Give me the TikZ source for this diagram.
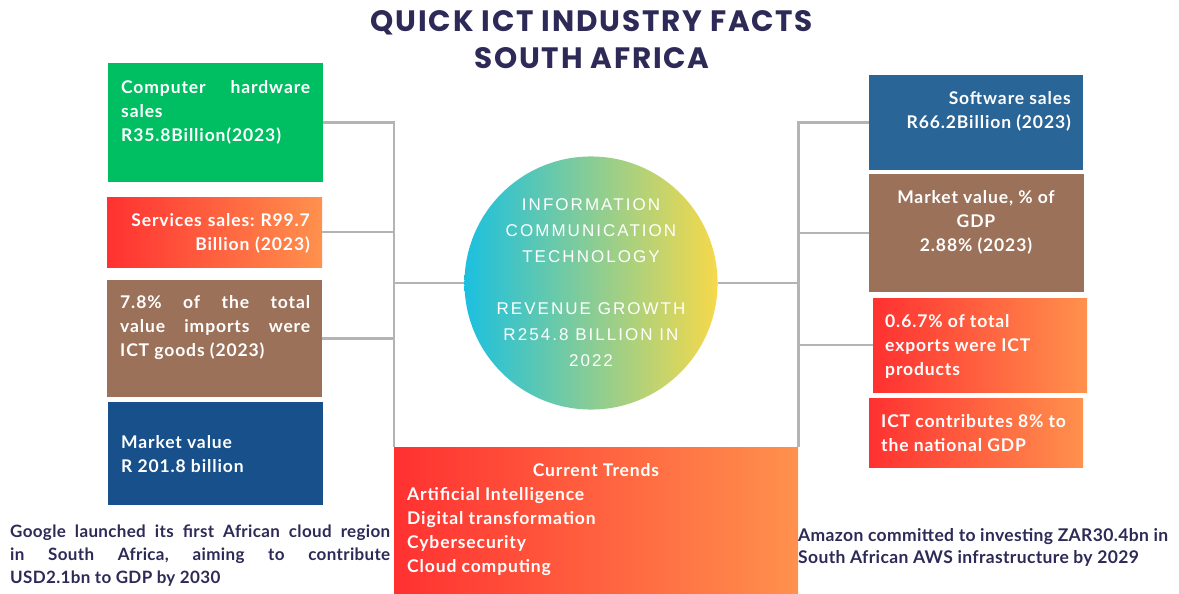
\documentclass[tikz,border=0pt]{standalone}
\usepackage{fontspec}
\setmainfont{Lato}[LetterSpace=5]
\newfontfamily\notefont[LetterSpace=2]{Lato}
\newfontfamily\titlefont[LetterSpace=6]{Poppins}
\newfontfamily\circfont[LetterSpace=12]{Liberation Sans}
\usepackage{tikz}
\usetikzlibrary{positioning}

\definecolor{hwgreen}{HTML}{00BF63}
\definecolor{redA}{HTML}{FF3131}
\definecolor{orangeA}{HTML}{FF914D}
\definecolor{brownA}{HTML}{9C715A}
\definecolor{blueA}{HTML}{17508A}
\definecolor{blueB}{HTML}{2A6598}
\definecolor{cyanA}{HTML}{1BC0DF}
\definecolor{yellowA}{HTML}{F6D94A}
\definecolor{linegray}{HTML}{B4B4B4}
\definecolor{navy}{HTML}{2D2A57}

\begin{document}
\frenchspacing
\begin{tikzpicture}[x=1pt, y=-1pt,
  box/.style={rectangle, inner sep=0pt, anchor=north west},
  hot/.style={box, left color=redA, right color=orangeA},
  txt/.style={text=white, inner sep=0pt, font=\fontsize{17.5}{24}\selectfont\bfseries},
  note/.style={text=navy, inner sep=0pt, anchor=north west},
  link/.style={draw=linegray, line width=2.5pt}]
\useasboundingbox (0,0) rectangle (1179,594);

\node[anchor=north, inner sep=0pt, text=navy, align=center,
  font=\titlefont\fontsize{29.5}{37}\selectfont\bfseries] (title) at (592,10)
  {QUICK ICT INDUSTRY FACTS\\SOUTH AFRICA};

\node[box, fill=hwgreen, minimum width=215pt, minimum height=119pt] (hw) at (108,63) {};
\node[hot, minimum width=215pt, minimum height=70pt] (svc) at (107,197) {};
\node[box, fill=brownA, minimum width=215pt, minimum height=117pt] (imp) at (107,280) {};
\node[box, fill=blueA, minimum width=215pt, minimum height=103pt] (mkt) at (108,402) {};

\node[box, fill=blueB, minimum width=214pt, minimum height=95pt] (sw) at (869,75) {};
\node[box, fill=brownA, minimum width=215pt, minimum height=118pt] (gdp) at (869,174) {};
\node[hot, minimum width=214pt, minimum height=94pt] (exp) at (873,298) {};
\node[hot, minimum width=214pt, minimum height=69pt] (con) at (869,398) {};

\node[hot, minimum width=404pt, minimum height=147pt] (trd) at (394,447) {};

\node[circle, left color=cyanA, right color=yellowA, minimum size=252pt, inner sep=0pt,
  text=white, align=center, font=\circfont\fontsize{17}{26}\selectfont] (ict) at (591,283)
  {INFORMATION\\COMMUNICATION\\TECHNOLOGY\\[26pt]REVENUE GROWTH\\R254.8 BILLION IN\\2022};

\draw[link] (hw.east) -| (trd.north west);
\draw[link] (svc.east) -- (svc.east -| trd.west);
\draw[link] (imp.east) -- (imp.east -| trd.west);
\draw[link] (ict.west) -- (ict.west -| trd.west);
\draw[link] (sw.west) -| (trd.north east);
\draw[link] (gdp.west) -- (gdp.west -| trd.east);
\draw[link] (exp.west) -- (exp.west -| trd.east);
\draw[link] (ict.east) -- (ict.east -| trd.east);

\node[txt, anchor=north west, text width=189pt, align=justify] (hwt) at (121,80)
  {Computer hardware\linebreak sales\\R35.8Billion(2023)};
\node[txt, anchor=north east, text width=190pt, align=right] (svct) at (310,213)
  {Services sales: R99.7\\Billion (2023)};
\node[txt, anchor=north west, text width=190pt, align=justify] (impt) at (120,295)
  {7.8\% of the total\linebreak value imports were\linebreak ICT goods (2023)};
\node[txt, anchor=north west, align=left] (mktt) at (121,435)
  {Market value\\R 201.8 billion};

\node[txt, anchor=north east, align=right] (swt) at (1071,91)
  {Software sales\\R66.2Billion (2023)};
\node[txt, anchor=north, align=center] (gdpt) at (976,190)
  {Market value, \% of\\GDP\\2.88\% (2023)};
\node[txt, anchor=north west, align=left] (expt) at (885,314)
  {0.6.7\% of total\\exports were ICT\\products};
\node[txt, anchor=north west, align=left] (cont) at (881,414)
  {ICT contributes 8\% to\\the national GDP};

\node[txt, anchor=north] (trdh) at (596,463) {Current Trends};
\node[txt, anchor=north west, align=left] (trdt) at (407,487)
  {Artificial Intelligence\\Digital transformation\\Cybersecurity\\Cloud computing};

\node[note, text width=380pt, align=justify, font=\notefont\fontsize{17}{23}\selectfont\bfseries] (google) at (10,525)
  {Google launched its first African cloud region\linebreak in South Africa, aiming to contribute\linebreak USD2.1bn to GDP by 2030};
\node[note, align=left, font=\notefont\fontsize{17.5}{22}\selectfont\bfseries] (amazon) at (798,528)
  {Amazon committed to investing ZAR30.4bn in\\South African AWS infrastructure by 2029};
\end{tikzpicture}
\end{document}
